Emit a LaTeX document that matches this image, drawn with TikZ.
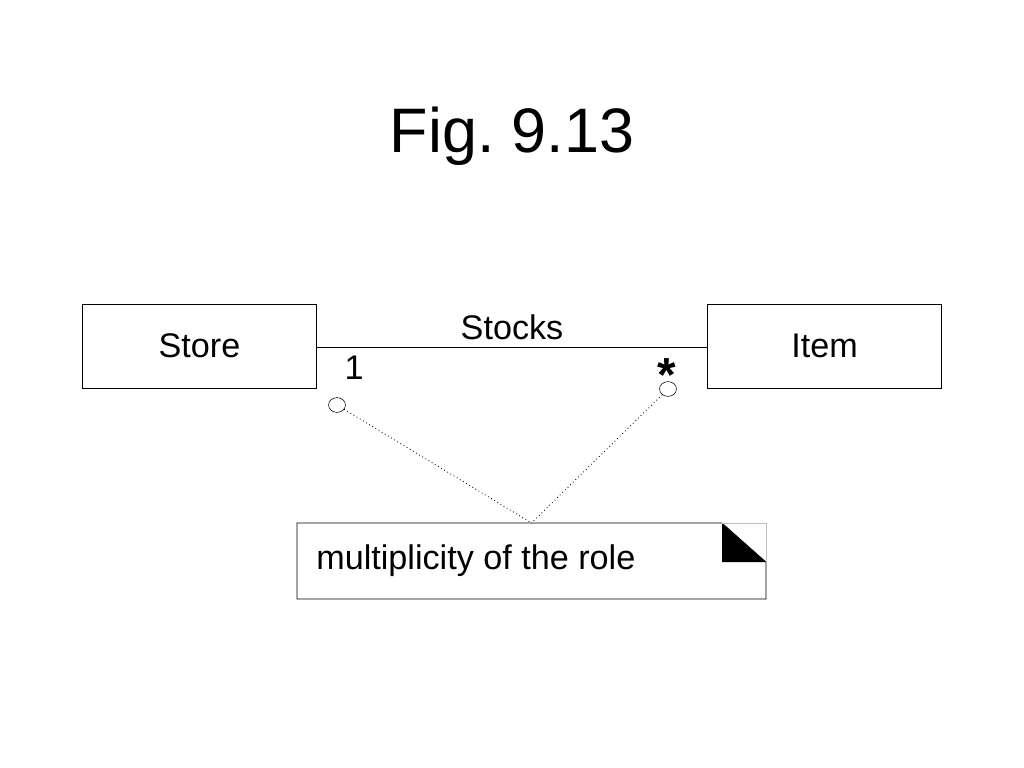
\documentclass[tikz,border=0pt]{standalone}
\usepackage{fontspec}
\setmainfont{Liberation Sans}
\usetikzlibrary{positioning,shapes.geometric}

\tikzset{
	classbox/.style={draw, thin, minimum width=166.5pt, minimum height=59.5pt, inner sep=0pt, font=\fontsize{24.3}{28}\selectfont},
	rolemark/.style={draw, thin, ellipse, minimum width=12pt, minimum height=10.5pt, inner sep=0pt},
	lbl/.style={inner sep=0pt, font=\fontsize{24.3}{28}\selectfont}
}

\begin{document}
\begin{tikzpicture}[x=0.025cm, y=-0.025cm]
		\useasboundingbox (0,0) rectangle (1024,768);
		\node[inner sep=0pt, font=\fontsize{44.7}{50}\selectfont] (title) at (512,136) {Fig.\ 9.13};
		\node[classbox] (store) at (199.5,346) {Store};
		\node[classbox] (item) at (824.5,346) {Item};
		\draw[thin] (store.east |- 0,347) -- node[lbl, above=5pt] (stocks) {Stocks} (item.west |- 0,347);
		\node[lbl] (one) at (354,368) {1};
		\node[lbl, font=\bfseries\fontsize{34}{36}\selectfont] (many) at (667,375) {*};
		\node[rolemark] (mark1) at (337,405) {};
		\node[rolemark] (mark2) at (668,389) {};
		% note with folded corner
		\coordinate (note) at (531.5,523);
		\draw[thin] (297,523) -- (722,523) -- (766,562) -- (766,599) -- (297,599) -- cycle;
		\fill (722,523) -- (722,562) -- (766,562) -- cycle;
		\draw[very thin, black!25] (722,523) -- (766,523) -- (766,562);
		\node[lbl, anchor=west] (notetext) at (316,561) {multiplicity of the role};
		\draw[dotted, line width=0.6pt] (mark1) -- (note);
		\draw[dotted, line width=0.6pt] (mark2) -- (note);
	\end{tikzpicture}
\end{document}
